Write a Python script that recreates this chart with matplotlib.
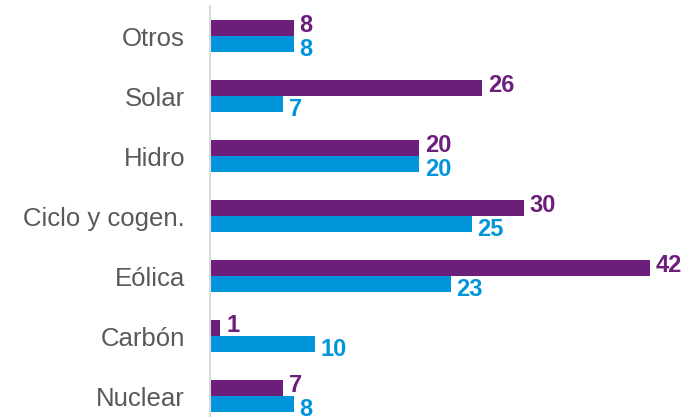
import matplotlib
matplotlib.use("Agg")
import matplotlib.pyplot as plt
import numpy as np

categories = ["Otros", "Solar", "Hidro", "Ciclo y cogen.", "Eólica", "Carbón", "Nuclear"]
purple_vals = [8, 26, 20, 30, 42, 1, 7]
blue_vals = [8, 7, 20, 25, 23, 10, 8]

PURPLE = "#6B1F7B"
BLUE = "#0095DA"

plt.rcParams['font.family'] = ['Liberation Sans', 'DejaVu Sans']

fig = plt.figure(figsize=(6.85, 4.17), dpi=100)
W, H = 685, 417
ax = fig.add_axes([210 / W, 1 - 426 / H, 471 / W, 420 / H])

y = np.arange(len(categories))
h = 0.2667
ax.barh(y - h / 2, purple_vals, height=h, color=PURPLE)
ax.barh(y + h / 2, blue_vals, height=h, color=BLUE)

for yi, v in zip(y, purple_vals):
    ax.annotate(str(v), (v, yi - h / 2), xytext=(4, 2), textcoords="offset points",
                ha="left", va="center", fontsize=17, fontweight="bold", color=PURPLE)
for yi, v in zip(y, blue_vals):
    ax.annotate(str(v), (v, yi + h / 2), xytext=(4, -4), textcoords="offset points",
                ha="left", va="center", fontsize=17, fontweight="bold", color=BLUE)

ax.set_ylim(len(categories) - 0.5, -0.5)
ax.set_xlim(0, 45)
ax.set_yticks(y)
ax.set_yticklabels(categories, fontsize=18.5, color="#595959")
ax.tick_params(axis="y", length=0, pad=18)
ax.set_xticks([])
for s in ["top", "right", "bottom"]:
    ax.spines[s].set_visible(False)
ax.spines["left"].set_color("#D9D9D9")
ax.spines["left"].set_linewidth(1.5)

fig.savefig("out.png", dpi=100)
